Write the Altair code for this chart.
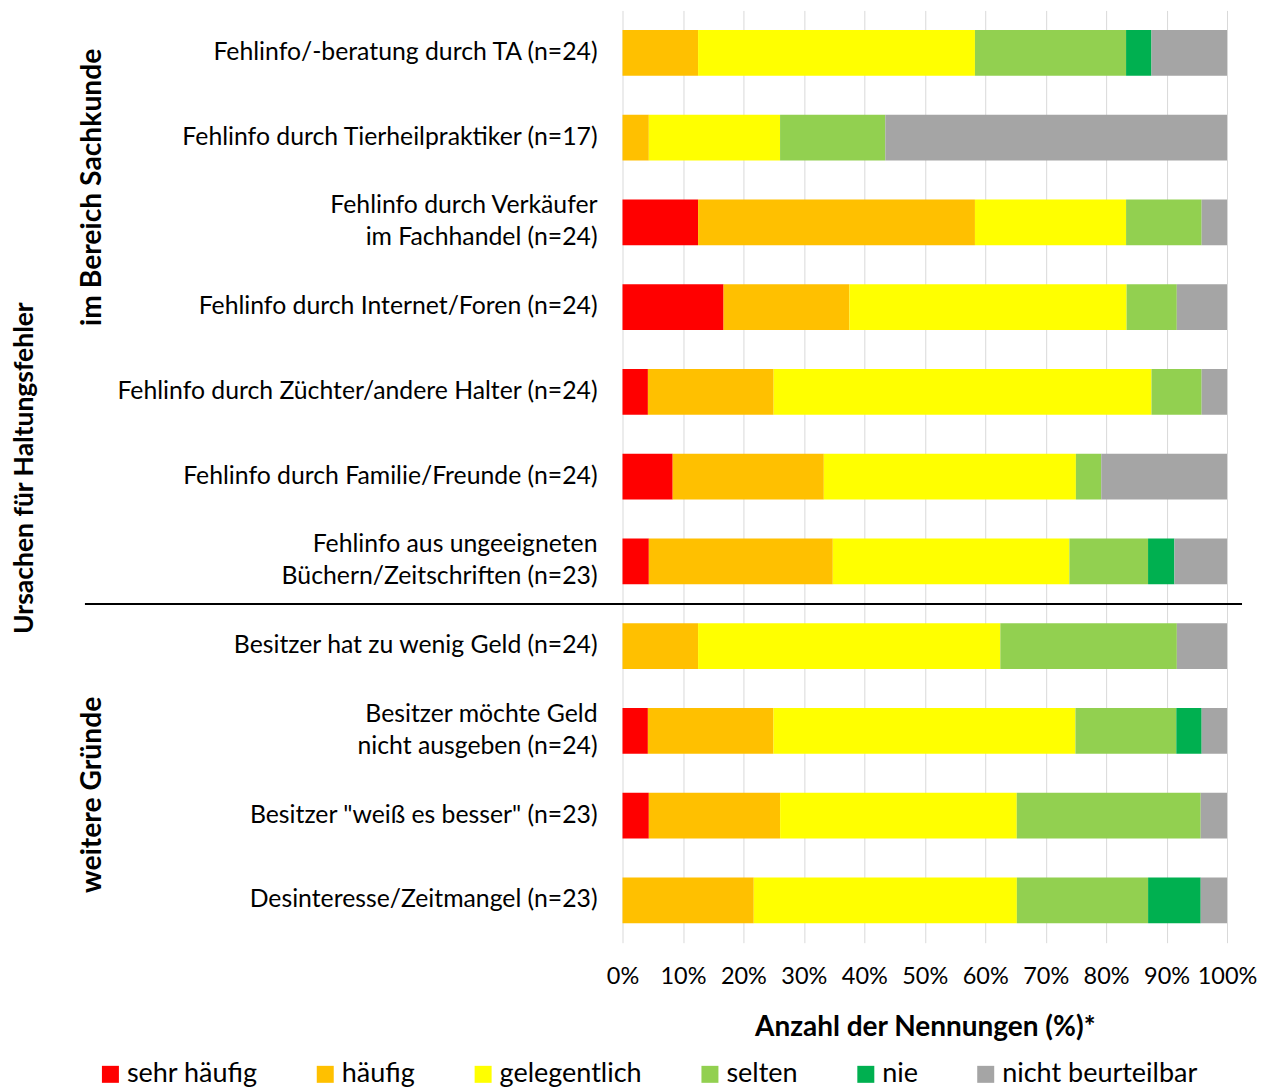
import altair as alt
import pandas as pd

categories = [
    "Fehlinfo/-beratung durch TA (n=24)",
    "Fehlinfo durch Tierheilpraktiker (n=17)",
    "Fehlinfo durch Verkäufer|im Fachhandel (n=24)",
    "Fehlinfo durch Internet/Foren (n=24)",
    "Fehlinfo durch Züchter/andere Halter (n=24)",
    "Fehlinfo durch Familie/Freunde (n=24)",
    "Fehlinfo aus ungeeigneten|Büchern/Zeitschriften (n=23)",
    "Besitzer hat zu wenig Geld (n=24)",
    "Besitzer möchte Geld|nicht ausgeben (n=24)",
    'Besitzer "weiß es besser" (n=23)',
    "Desinteresse/Zeitmangel (n=23)",
]
series = ["sehr häufig", "häufig", "gelegentlich", "selten", "nie", "nicht beurteilbar"]
colors = ["#FF0000", "#FFC000", "#FFFF00", "#92D050", "#00B050", "#A5A5A5"]

sehr_haeufig = [0, 0, 12.5, 16.7, 4.2, 8.3, 4.35, 0, 4.2, 4.35, 0]
haeufig = [12.5, 4.35, 45.8, 20.8, 20.8, 25.0, 30.4, 12.5, 20.8, 21.7, 21.7]
gelegentlich = [45.8, 21.7, 25.0, 45.8, 62.5, 41.7, 39.1, 50.0, 50.0, 39.1, 43.5]
selten = [25.0, 17.4, 12.5, 8.3, 8.3, 4.2, 13.0, 29.2, 16.7, 30.4, 21.7]
nie = [4.2, 0, 0, 0, 0, 0, 4.35, 0, 4.2, 0, 8.7]
nicht_beurteilbar = [12.5, 56.5, 4.2, 8.3, 4.2, 20.8, 8.7, 8.3, 4.2, 4.35, 4.35]

group_labels = ["im Bereich Sachkunde", "weitere Gründe"]
outer_title = "Ursachen für Haltungsfehler"
x_title = "Anzahl der Nennungen (%)*"

values_by_series = [sehr_haeufig, haeufig, gelegentlich, selten, nie, nicht_beurteilbar]
rows = []
for si, (s, vals) in enumerate(zip(series, values_by_series)):
    for cat, v in zip(categories, vals):
        rows.append({"label": cat, "series": s, "value": v, "order": si})
df = pd.DataFrame(rows)

FONT = "Lato"

yscale = alt.Scale(paddingInner=0.46, paddingOuter=0.23)
yenc = alt.Y("label:N", sort=categories, axis=None, scale=yscale)

bars = alt.Chart(df).mark_bar().encode(
    y=yenc,
    x=alt.X(
        "value:Q",
        stack="normalize",
        scale=alt.Scale(domain=[0, 1], nice=False),
        axis=alt.Axis(
            format=".0%",
            values=[i / 10 for i in range(11)],
            grid=True,
            gridColor="#D9D9D9",
            domain=False,
            ticks=False,
            labelOverlap=False,
            labelFlush=False,
            labelFontSize=23.5,
            labelPadding=22,
            labelColor="#000000",
            title=x_title,
            titleFontSize=28,
            titleFontWeight="bold",
            titleColor="#000000",
            titlePadding=25,
        ),
    ),
    color=alt.Color(
        "series:N",
        scale=alt.Scale(domain=series, range=colors),
        legend=alt.Legend(
            orient="none",
            legendX=-526,
            legendY=1051,
            direction="horizontal",
            columns=6,
            symbolType="square",
            symbolSize=289,
            symbolStrokeWidth=0,
            symbolOpacity=1,
            labelFontSize=27,
            labelColor="#000000",
            labelLimit=400,
            labelOffset=3,
            columnPadding=54,
            title=None,
        ),
    ),
    order=alt.Order("order:Q"),
)

label_df = pd.DataFrame({"label": categories})

labels_single = alt.Chart(label_df).transform_filter(
    "indexof(datum.label, '|') < 0"
).mark_text(
    align="right", baseline="middle", fontSize=24.8, color="#000000"
).encode(y=yenc, x=alt.value(-25), text="label:N")

labels_double = alt.Chart(label_df).transform_filter(
    "indexof(datum.label, '|') >= 0"
).mark_text(
    align="right", baseline="middle", lineBreak="|", lineHeight=32, dy=-16,
    fontSize=24.8, color="#000000"
).encode(y=yenc, x=alt.value(-25), text="label:N")

def vtext(txt, x, y, size):
    return alt.Chart(pd.DataFrame({"t": [txt]})).mark_text(
        angle=270, align="center", baseline="middle", fontSize=size,
        fontWeight="bold", color="#000000"
    ).encode(text="t:N", x=alt.value(x), y=alt.value(y))

g1 = vtext(group_labels[0], -530, 177, 28.3)
g2 = vtext(group_labels[1], -530, 785, 28.3)
g0 = vtext(outer_title, -598, 458, 26.5)

sep = alt.Chart(pd.DataFrame({"a": [0]})).mark_rule(
    color="#000000", strokeWidth=2
).encode(x=alt.value(-538), x2=alt.value(620), y=alt.value(594))

chart = alt.layer(bars, labels_single, labels_double, g1, g2, g0, sep).properties(
    width=605,
    height=933,
    autosize=alt.AutoSizeParams(type="none"),
    padding={"left": 615, "top": 2, "right": 35, "bottom": 150},
).configure(font=FONT).configure_view(stroke=None)

chart.save("out.html", embed_options={"renderer": "svg", "actions": False})
